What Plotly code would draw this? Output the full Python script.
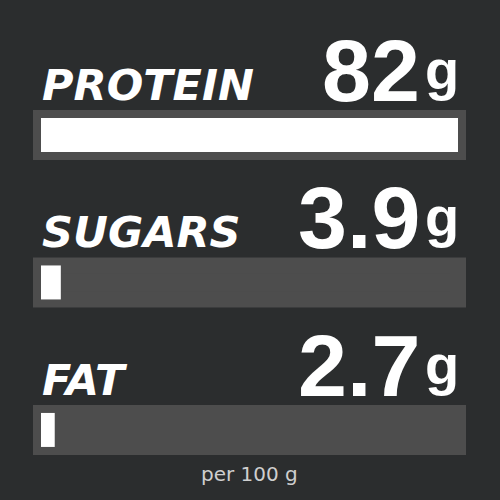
import plotly.graph_objects as go

# dados
nutrientes = ["PROTEIN", "SUGARS", "FAT"]
valores = [82, 3.9, 2.7]
rotulos_valor = ["82", "3.9", "2.7"]
unidade = "g"
escala_max = 82
nota = "per 100 g"

fundo = "#2b2d2e"
trilho = "#4d4d4d"

fig = go.Figure()

# trilho cinza (a borda larga faz a moldura em volta da barra)
fig.add_trace(go.Bar(
    y=nutrientes, x=[escala_max] * len(nutrientes), orientation="h",
    width=0.2305, marker=dict(color=trilho, line=dict(color=trilho, width=16)),
    hoverinfo="skip", showlegend=False))

# barra branca com o valor
fig.add_trace(go.Bar(
    y=nutrientes, x=valores, orientation="h",
    width=0.2305, marker=dict(color="white", line=dict(width=0)),
    hoverinfo="skip", showlegend=False))

fonte_num = "Liberation Sans"

for nome, rot in zip(nutrientes, rotulos_valor):
    # nome do nutriente
    fig.add_annotation(x=0, xref="x", y=nome, yref="y", xanchor="left", yanchor="middle",
                       xshift=-1, yshift=50, text="<b><i>" + nome + "</i></b>", showarrow=False,
                       font=dict(family="DejaVu Sans", size=43, color="white"))
    # valor grande
    fig.add_annotation(x=escala_max, xref="x", y=nome, yref="y", xanchor="right", yanchor="bottom",
                       xshift=-36, yshift=13, text="<b>" + rot + "</b>", showarrow=False,
                       font=dict(family=fonte_num, size=88, color="white"))
    # unidade
    fig.add_annotation(x=escala_max, xref="x", y=nome, yref="y", xanchor="right", yanchor="bottom",
                       xshift=3, yshift=32, text="<b>" + unidade + "</b>", showarrow=False,
                       font=dict(family=fonte_num, size=56, color="white"))

fig.add_annotation(x=0.5, xref="paper", y=0, yref="paper", xanchor="center", yanchor="bottom",
                   yshift=12, text=nota, showarrow=False,
                   font=dict(family="DejaVu Sans", size=20, color="#cfcfcf"))

# 8 px de folga de cada lado para a moldura do trilho
folga = 8 * escala_max / 417

fig.update_layout(
    width=500, height=500, autosize=False,
    paper_bgcolor=fundo, plot_bgcolor=fundo,
    margin=dict(l=33, r=34, t=0, b=0),
    barmode="overlay",
    xaxis=dict(range=[-folga, escala_max + folga], visible=False, fixedrange=True),
    yaxis=dict(range=[2.475, -0.915], visible=False, fixedrange=True,
               categoryorder="array", categoryarray=nutrientes),
)

fig.write_html("out.html", config={"displayModeBar": False},
               post_script="document.body.style.margin='0';")
